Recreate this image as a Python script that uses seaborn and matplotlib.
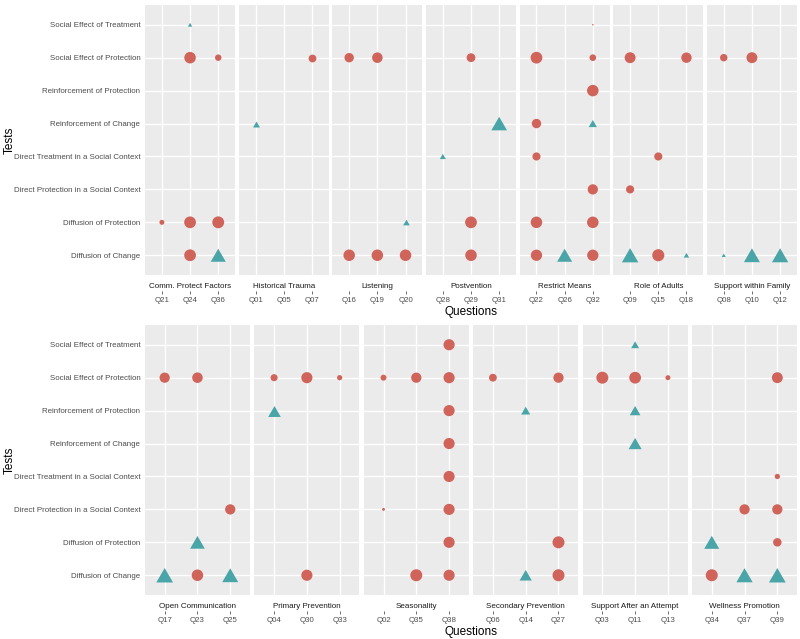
import matplotlib
matplotlib.use("Agg")
import matplotlib.pyplot as plt
import pandas as pd
import seaborn as sns

# y categories, bottom to top
tests = ["Diffusion of Change", "Diffusion of Protection",
         "Direct Protection in a Social Context", "Direct Treatment in a Social Context",
         "Reinforcement of Change", "Reinforcement of Protection",
         "Social Effect of Protection", "Social Effect of Treatment"]
test_codes = ["DfC", "DfP", "DP", "DT", "RC", "RP", "SEP", "SET"]

top_facets = ["Comm. Protect Factors", "Historical Trauma", "Listening", "Postvention",
              "Restrict Means", "Role of Adults", "Support within Family"]
top_questions = [["Q21", "Q24", "Q36"], ["Q01", "Q05", "Q07"], ["Q16", "Q19", "Q20"],
                 ["Q28", "Q29", "Q31"], ["Q22", "Q26", "Q32"], ["Q09", "Q15", "Q18"],
                 ["Q08", "Q10", "Q12"]]
bottom_facets = ["Open Communication", "Primary Prevention", "Seasonality",
                 "Secondary Prevention", "Support After an Attempt", "Wellness Promotion"]
bottom_questions = [["Q17", "Q23", "Q25"], ["Q04", "Q30", "Q33"], ["Q02", "Q35", "Q38"],
                    ["Q06", "Q14", "Q27"], ["Q03", "Q11", "Q13"], ["Q34", "Q37", "Q39"]]

# (question, test, value, kind)  kind: c = circle, t = triangle
comm_protect = [("Q24", "SET", 0.4, "t"), ("Q24", "SEP", 4.8, "c"), ("Q36", "SEP", 1.5, "c"),
                ("Q21", "DfP", 0.9, "c"), ("Q24", "DfP", 5.0, "c"), ("Q36", "DfP", 5.1, "c"),
                ("Q24", "DfC", 5.0, "c"), ("Q36", "DfC", 4.7, "t")]
historical = [("Q07", "SEP", 2.2, "c"), ("Q01", "RC", 1.0, "t")]
listening = [("Q16", "SEP", 3.2, "c"), ("Q19", "SEP", 4.0, "c"), ("Q20", "DfP", 0.9, "t"),
             ("Q16", "DfC", 4.8, "c"), ("Q19", "DfC", 4.8, "c"), ("Q20", "DfC", 4.8, "c")]
postvention = [("Q29", "SEP", 2.8, "c"), ("Q31", "RC", 5.1, "t"), ("Q28", "DT", 0.75, "t"),
               ("Q29", "DfP", 5.0, "c"), ("Q29", "DfC", 4.8, "c")]
restrict = [("Q32", "SET", 0.08, "c"), ("Q22", "SEP", 5.0, "c"), ("Q32", "SEP", 1.6, "c"),
            ("Q32", "RP", 4.8, "c"), ("Q22", "RC", 3.2, "c"), ("Q32", "RC", 1.4, "t"),
            ("Q22", "DT", 2.4, "c"), ("Q32", "DP", 3.8, "c"), ("Q22", "DfP", 4.8, "c"),
            ("Q32", "DfP", 4.8, "c"), ("Q22", "DfC", 4.6, "c"), ("Q26", "DfC", 4.7, "t"),
            ("Q32", "DfC", 4.6, "c")]
adults = [("Q09", "SEP", 4.3, "c"), ("Q18", "SEP", 3.9, "c"), ("Q15", "DT", 2.4, "c"),
          ("Q09", "DP", 2.4, "c"), ("Q09", "DfC", 5.6, "t"), ("Q15", "DfC", 5.3, "c"),
          ("Q18", "DfC", 0.6, "t")]
family = [("Q08", "SEP", 2.0, "c"), ("Q10", "SEP", 4.3, "c"), ("Q08", "DfC", 0.35, "t"),
          ("Q10", "DfC", 5.3, "t"), ("Q12", "DfC", 5.5, "t")]

open_comm = [("Q17", "SEP", 3.8, "c"), ("Q23", "SEP", 4.0, "c"), ("Q25", "DP", 3.8, "c"),
             ("Q23", "DfP", 4.5, "t"), ("Q17", "DfC", 5.8, "t"), ("Q23", "DfC", 4.8, "c"),
             ("Q25", "DfC", 5.3, "t")]
primary = [("Q04", "SEP", 1.8, "c"), ("Q30", "SEP", 4.5, "c"), ("Q33", "SEP", 1.0, "c"),
           ("Q04", "RP", 3.3, "t"), ("Q30", "DfC", 4.5, "c")]
seasonality = [("Q38", "SET", 4.5, "c"), ("Q02", "SEP", 1.3, "c"), ("Q35", "SEP", 3.8, "c"),
               ("Q38", "SEP", 4.5, "c"), ("Q38", "RP", 4.5, "c"), ("Q38", "RC", 4.5, "c"),
               ("Q38", "DT", 4.5, "c"), ("Q02", "DP", 0.3, "c"), ("Q38", "DP", 4.5, "c"),
               ("Q38", "DfP", 4.5, "c"), ("Q35", "DfC", 5.2, "c"), ("Q38", "DfC", 4.5, "c")]
secondary = [("Q06", "SEP", 2.2, "c"), ("Q27", "SEP", 3.8, "c"), ("Q14", "RP", 1.7, "t"),
             ("Q27", "DfP", 5.2, "c"), ("Q14", "DfC", 3.1, "t"), ("Q27", "DfC", 5.2, "c")]
after_attempt = [("Q11", "SET", 1.3, "t"), ("Q03", "SEP", 5.2, "c"), ("Q11", "SEP", 5.0, "c"),
                 ("Q13", "SEP", 0.9, "c"), ("Q11", "RP", 2.4, "t"), ("Q11", "RC", 3.5, "t")]
wellness = [("Q39", "SEP", 4.3, "c"), ("Q39", "DT", 1.0, "c"), ("Q37", "DP", 3.8, "c"),
            ("Q39", "DP", 3.8, "c"), ("Q34", "DfP", 4.7, "t"), ("Q39", "DfP", 2.6, "c"),
            ("Q34", "DfC", 5.2, "c"), ("Q37", "DfC", 5.5, "t"), ("Q39", "DfC", 5.8, "t")]

top_points = [comm_protect, historical, listening, postvention, restrict, adults, family]
bottom_points = [open_comm, primary, seasonality, secondary, after_attempt, wellness]

RED = "#D0645B"
TEAL = "#4AA5A8"
TRI = [(0, 0.866), (-1, -0.866), (1, -0.866)]

sns.set_style("darkgrid", {"axes.facecolor": "#EBEBEB", "grid.color": "white"})
plt.rcParams["font.family"] = ["Liberation Sans", "DejaVu Sans"]

fig = plt.figure(figsize=(8, 6.39), dpi=100)
W, H = 800, 639


def draw_row(facets, questions, points, top, bottom, gap):
    left, right = 145, 797
    n = len(facets)
    pw = (right - left - gap * (n - 1)) / n
    ph = bottom - top
    for i in range(n):
        x0 = left + i * (pw + gap)
        ax = fig.add_axes([x0 / W, 1 - bottom / H, pw / W, ph / H])
        df = pd.DataFrame(points[i], columns=["question", "test", "value", "kind"])
        df["x"] = df["question"].map({q: k for k, q in enumerate(questions[i])})
        df["y"] = df["test"].map({t: k for k, t in enumerate(test_codes)})
        circ = df[df.kind == "c"]
        tri = df[df.kind == "t"]
        if len(circ):
            sns.scatterplot(data=circ, x="x", y="y", size="value", sizes=(0, 86),
                            size_norm=(0, 6), color=RED, marker="o", linewidth=0,
                            legend=False, ax=ax, zorder=3)
        if len(tri):
            sns.scatterplot(data=tri, x="x", y="y", size="value", sizes=(0, 150),
                            size_norm=(0, 6), color=TEAL, marker=TRI, linewidth=0,
                            legend=False, ax=ax, zorder=3)
        ax.set_xlim(-0.6, 2.6)
        ax.set_ylim(-0.6, 7.6)
        ax.set_xticks(range(3))
        ax.set_xticklabels([])
        ax.set_yticks(range(len(tests)))
        ax.grid(True, color="white", linewidth=1.0)
        ax.tick_params(axis="x", length=0)
        if i == 0:
            ax.set_yticklabels(tests, fontsize=5.7, color="#4D4D4D")
            ax.tick_params(axis="y", length=2.2, width=0.5, color="#333333", pad=1.2)
        else:
            ax.set_yticklabels([])
            ax.tick_params(axis="y", length=0)
        for s in ax.spines.values():
            s.set_visible(False)
        ax.set_xlabel("")
        ax.set_ylabel("")
        ax.text(0.5, -11 / ph, facets[i], transform=ax.transAxes, ha="center",
                va="center", fontsize=5.8, color="#1A1A1A")
        sec = ax.secondary_xaxis(-16 / ph)
        sec.set_xticks(range(3))
        sec.set_xticklabels(questions[i], fontsize=5.7, color="#4D4D4D")
        sec.tick_params(axis="x", length=2.2, width=0.5, color="#333333", pad=1.8)
        sec.spines["bottom"].set_visible(False)
    fig.text((left + right) / 2 / W, 1 - (bottom + 37) / H, "Questions",
             ha="center", va="center", fontsize=8.5, color="black")
    fig.text(10 / W, 1 - (top + bottom) / 2 / H, "Tests", ha="center", va="center",
             rotation=90, fontsize=8.5, color="black")


draw_row(top_facets, top_questions, top_points, 5, 275, 3.5)
draw_row(bottom_facets, bottom_questions, bottom_points, 325, 595, 4.5)

fig.savefig("out.png", dpi=100, facecolor="white")
